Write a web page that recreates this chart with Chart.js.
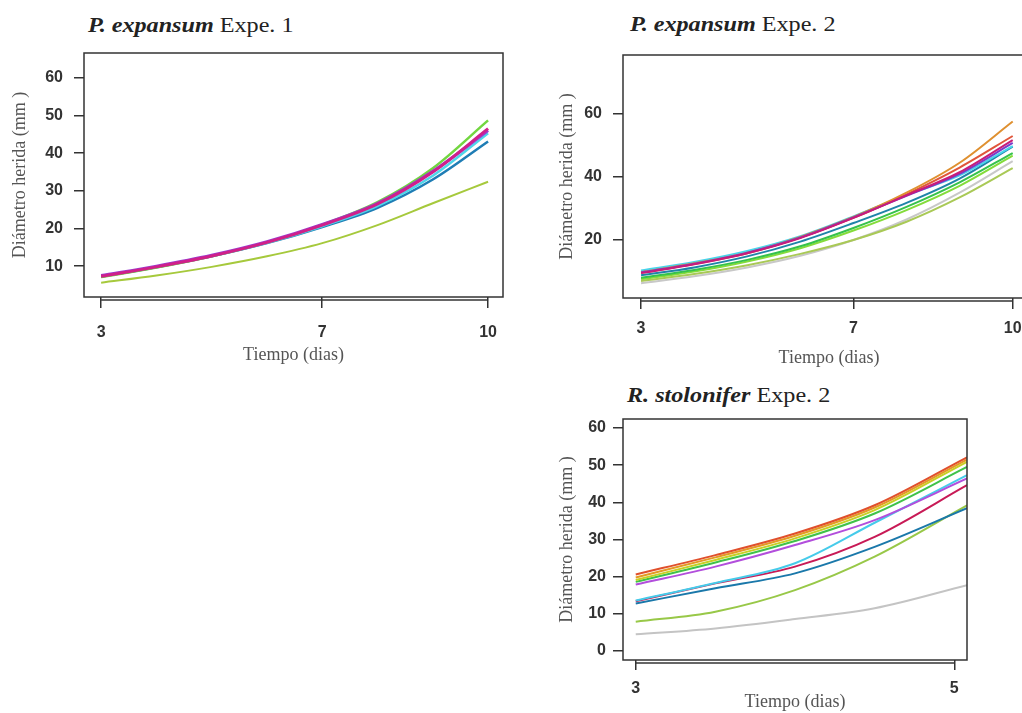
<!DOCTYPE html>
<html>
<head>
<meta charset="utf-8">
<script src="https://cdn.jsdelivr.net/npm/chart.js@4.4.0/dist/chart.umd.min.js"></script>
<style>
  html, body { margin: 0; padding: 0; background: #fff; overflow: hidden; }
  #page { position: relative; width: 1022px; height: 713px; overflow: hidden; }
  canvas { position: absolute; }
  .ttl { position: absolute; font-family: "Liberation Serif", "Times New Roman", serif; font-size: 21px; line-height: 22px; color: #222; white-space: nowrap; transform: scaleX(1.15); transform-origin: left top; }
  .ttl b { font-style: italic; }
</style>
</head>
<body>
<div id="page">
  <div class="ttl" style="left:88px; top:14px;"><b>P. expansum</b> Expe. 1</div>
  <div class="ttl" style="left:630px; top:13px;"><b>P. expansum</b> Expe. 2</div>
  <div class="ttl" style="left:627px; top:384px;"><b>R. stolonifer</b> Expe. 2</div>
  <canvas id="c1" width="520" height="340" style="left:0; top:40px;"></canvas>
  <canvas id="c2" width="540" height="340" style="left:520px; top:40px;"></canvas>
  <canvas id="c3" width="520" height="333" style="left:520px; top:380px;"></canvas>
</div>
<script>
// P. expansum Expe. 1
const dias1 = [3, 4, 5, 6, 7, 8, 9, 10];
const ticksX1 = [3, 7, 10];
const ticksY1 = [10, 20, 30, 40, 50, 60];
const p1Magenta = [7.3, 9.8, 12.7, 16.3, 20.9, 26.5, 35.0, 46.5];
const p1Violeta = [7.5, 10.0, 12.9, 16.5, 21.1, 26.7, 35.2, 46.0];
const p1Verde   = [7.1, 9.6, 12.6, 16.3, 21.0, 27.0, 36.0, 48.7];
const p1Cian    = [7.4, 9.8, 12.7, 16.2, 20.6, 26.0, 34.0, 45.3];
const p1Azul    = [7.2, 9.7, 12.6, 16.1, 20.4, 25.5, 33.0, 43.1];
const p1Oliva   = [5.6, 7.5, 9.8, 12.6, 16.1, 20.9, 26.7, 32.4];

// P. expansum Expe. 2
const dias2 = [3, 4, 5, 6, 7, 8, 9, 10];
const ticksX2 = [3, 7, 10];
const ticksY2 = [20, 40, 60];
const p2Naranja = [9.8, 12.6, 16.0, 21.0, 27.3, 35.0, 44.5, 57.6];
const p2Rojo    = [9.6, 12.4, 15.8, 20.8, 27.0, 34.5, 43.0, 53.0];
const p2Magenta = [9.5, 12.3, 15.8, 20.6, 27.0, 34.2, 41.5, 51.7];
const p2Violeta = [9.7, 12.5, 16.0, 20.8, 27.2, 34.0, 41.0, 50.8];
const p2Cian    = [10.3, 13.0, 16.5, 21.2, 27.5, 34.3, 40.5, 49.8];
const p2Azul    = [8.8, 11.3, 14.8, 19.5, 25.4, 31.8, 39.5, 49.6];
const p2Verde   = [8.0, 10.5, 13.7, 18.0, 23.8, 30.5, 38.3, 47.6];
const p2Lima    = [7.6, 10.0, 13.2, 17.4, 23.0, 29.5, 37.2, 46.8];
const p2Oliva   = [7.0, 9.2, 12.0, 15.6, 20.0, 25.8, 33.5, 42.8];
const p2Gris    = [6.3, 8.5, 11.3, 15.0, 20.0, 26.5, 35.0, 45.0];

// R. stolonifer Expe. 2
const dias3 = [3, 3.5, 4, 4.5, 5.08];
const ticksX3 = [3, 5];
const ticksY3 = [0, 10, 20, 30, 40, 50, 60];
const p3Rojo    = [20.6, 25.8, 31.6, 39.2, 52.1];
const p3Naranja = [19.8, 25.2, 31.0, 38.6, 51.5];
const p3Amarillo= [19.1, 24.5, 30.3, 37.9, 50.9];
const p3Verde   = [18.6, 23.8, 29.6, 37.0, 49.5];
const p3Violeta = [17.9, 22.7, 28.5, 35.2, 46.4];
const p3Cian    = [13.6, 18.3, 23.6, 34.5, 47.3];
const p3Carmin  = [13.4, 18.2, 22.7, 30.7, 44.6];
const p3Azul    = [12.8, 16.9, 20.9, 28.0, 38.4];
const p3Oliva   = [7.9, 10.6, 16.4, 25.4, 39.2];
const p3Gris    = [4.5, 6.1, 8.6, 11.5, 17.7];

const tituloX = 'Tiempo (dias)';
const tituloY = 'Diámetro herida (mm )';

// caja estilo R y eje x separado
const rBox = {
  id: 'rBox',
  afterDraw(chart) {
    const {ctx, chartArea: a, scales: {x}} = chart;
    ctx.save();
    ctx.strokeStyle = '#333';
    ctx.lineWidth = 1.5;
    ctx.strokeRect(a.left, a.top, a.right - a.left, a.bottom - a.top);
    const t = x.ticks;
    const y0 = a.bottom + 3;
    ctx.beginPath();
    ctx.moveTo(x.getPixelForValue(t[0].value), y0);
    ctx.lineTo(x.getPixelForValue(t[t.length - 1].value), y0);
    ctx.stroke();
    ctx.restore();
  }
};

function serie(dias, vals, color, ancho) {
  return {
    data: dias.map((d, i) => ({x: d, y: vals[i]})),
    borderColor: color,
    borderWidth: ancho,
    pointRadius: 0,
    fill: false,
    cubicInterpolationMode: 'monotone'
  };
}

function grafico(id, cfg) {
  const tickFont = {family: '"Liberation Sans", Arial, sans-serif', size: 16, weight: 'bold'};
  const titleFont = {family: '"Liberation Serif", "Times New Roman", serif', size: 18};
  new Chart(document.getElementById(id), {
    type: 'line',
    data: {datasets: cfg.datasets},
    options: {
      responsive: false,
      animation: false,
      events: [],
      layout: {padding: {left: 0, top: cfg.top, right: cfg.right, bottom: 0}},
      plugins: {legend: {display: false}, tooltip: {enabled: false}},
      scales: {
        x: {
          type: 'linear',
          min: cfg.xMin, max: cfg.xMax,
          afterBuildTicks: s => { s.ticks = cfg.ticksX.map(v => ({value: v})); },
          afterFit: s => { s.height = cfg.xH; s.paddingLeft = 0; s.paddingRight = 0; },
          grid: {drawOnChartArea: false, drawTicks: true, tickLength: cfg.xTick, color: '#333', lineWidth: 1.5},
          border: {display: false},
          ticks: {font: tickFont, color: '#333', padding: cfg.xPad, maxRotation: 0},
          title: {display: true, text: tituloX, font: titleFont, color: '#555', padding: {top: 0, bottom: cfg.xTitlePad}}
        },
        y: {
          type: 'linear',
          min: cfg.yMin, max: cfg.yMax,
          afterBuildTicks: s => { s.ticks = cfg.ticksY.map(v => ({value: v})); },
          afterFit: s => { s.width = cfg.yW; s.paddingTop = 0; s.paddingBottom = 0; },
          grid: {drawOnChartArea: false, drawTicks: true, tickLength: 10, color: '#333', lineWidth: 1.5},
          border: {display: false},
          ticks: {font: tickFont, color: '#333', padding: cfg.yPad},
          title: {display: true, text: tituloY, font: titleFont, color: '#555', padding: {top: cfg.yTitlePad, bottom: 0}}
        }
      }
    },
    plugins: [rBox]
  });
}

grafico('c1', {
  top: 13, right: 17, xH: 83, yW: 84,
  xMin: 2.69, xMax: 10.27, yMin: 1.8, yMax: 66.6,
  ticksX: ticksX1, ticksY: ticksY1,
  xTick: 11, xPad: 15, yPad: 11, yTitlePad: 9, xTitlePad: 14,
  datasets: [
    serie(dias1, p1Magenta, '#d0208a', 3),
    serie(dias1, p1Violeta, '#9a3ccf', 3),
    serie(dias1, p1Verde, '#72d640', 2.5),
    serie(dias1, p1Cian, '#4fd6ea', 2.5),
    serie(dias1, p1Azul, '#1f7db5', 2.5),
    serie(dias1, p1Oliva, '#a6c93c', 2)
  ]
});

grafico('c2', {
  top: 15, right: 25, xH: 82, yW: 103,
  xMin: 2.66, xMax: 10.42, yMin: 1.6, yMax: 78.7,
  ticksX: ticksX2, ticksY: ticksY2,
  xTick: 11, xPad: 10, yPad: 11, yTitlePad: 36, xTitlePad: 11,
  datasets: [
    serie(dias2, p2Magenta, '#c81c7a', 2),
    serie(dias2, p2Violeta, '#7a3cc8', 2),
    serie(dias2, p2Naranja, '#df9030', 2),
    serie(dias2, p2Rojo, '#e0563a', 2),
    serie(dias2, p2Cian, '#48d4ec', 2),
    serie(dias2, p2Azul, '#1f84a8', 2),
    serie(dias2, p2Verde, '#36c24c', 2),
    serie(dias2, p2Lima, '#84dc3a', 2),
    serie(dias2, p2Oliva, '#a9c956', 2),
    serie(dias2, p2Gris, '#c8c8c8', 2)
  ]
});

grafico('c3', {
  top: 39, right: 73, xH: 53, yW: 103,
  xMin: 2.92, xMax: 5.08, yMin: -2.4, yMax: 62.4,
  ticksX: ticksX3, ticksY: ticksY3,
  xTick: 10, xPad: 9, yPad: 7, yTitlePad: 36, xTitlePad: 0,
  datasets: [
    serie(dias3, p3Rojo, '#e0502c', 2),
    serie(dias3, p3Naranja, '#e49a24', 2),
    serie(dias3, p3Amarillo, '#c8d024', 2),
    serie(dias3, p3Verde, '#3fc24a', 2),
    serie(dias3, p3Violeta, '#b24edc', 2),
    serie(dias3, p3Cian, '#46cbea', 2),
    serie(dias3, p3Carmin, '#c81a56', 2),
    serie(dias3, p3Azul, '#1a78aa', 2),
    serie(dias3, p3Oliva, '#98c848', 2),
    serie(dias3, p3Gris, '#c4c4c4', 2)
  ]
});
</script>
</body>
</html>
